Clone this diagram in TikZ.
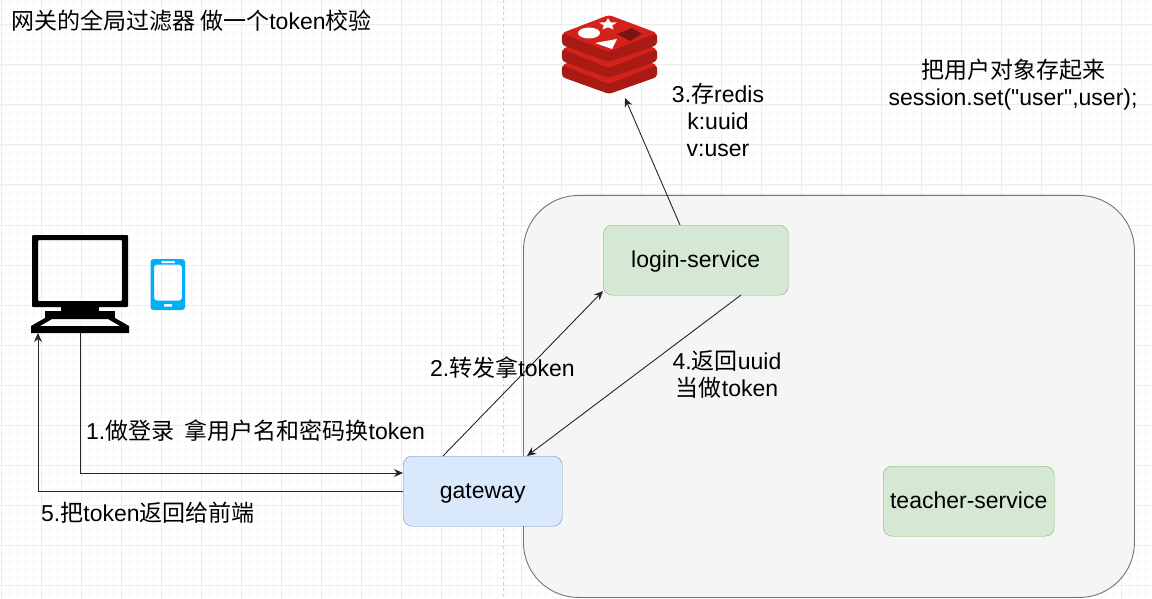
\documentclass[tikz,border=0pt]{standalone}
\usepackage{fontspec}
\setmainfont{Liberation Sans}
\newfontfamily\cjk{Noto Sans CJK SC}
\newfontfamily\rawfont{Liberation Sans}
\usetikzlibrary{shapes.geometric, arrows.meta, positioning}
\newcommand{\zh}[1]{{\cjk #1}}
\definecolor{gridmajor}{HTML}{EDEDED}
\definecolor{gridminor}{HTML}{F8F8F8}
\definecolor{redistop}{HTML}{D3211C}
\definecolor{redisside}{HTML}{A81A14}
\definecolor{redisdark}{HTML}{7A1410}
\definecolor{boxgreen}{HTML}{D5E8D4}
\definecolor{boxgreenline}{HTML}{82B366}
\definecolor{boxblue}{HTML}{DAE8FC}
\definecolor{boxblueline}{HTML}{6C8EBF}
\definecolor{phoneblue}{HTML}{00AEF5}
\tikzset{
  greenbox/.style={rectangle, rounded corners=9pt, minimum height=70pt, text height=15pt, text depth=0pt, font=\fontsize{23}{27}\selectfont, fill=boxgreen, draw=boxgreenline},
  bluebox/.style={rectangle, rounded corners=9pt, minimum height=70pt, text height=15pt, text depth=0pt, font=\fontsize{23}{27}\selectfont, fill=boxblue, draw=boxblueline},
  textlabel/.style={align=center, inner sep=0pt, font=\fontsize{23}{27}\selectfont},
  arrow/.style={draw=black!85, line width=0.9pt, -{Stealth[length=9pt,width=8pt]}}
}
\begin{document}
\begin{tikzpicture}[x=1pt, y=-1pt]
    \useasboundingbox (0,0) rectangle (1152,599);
    % grid of the drawing sheet
    \foreach \gx in {9.7,17.7,...,1152} \draw[gridminor, line width=0.8pt] (\gx,0) -- (\gx,599);
    \foreach \gy in {1,9,...,599} \draw[gridminor, line width=0.8pt] (0,\gy) -- (1152,\gy);
    \foreach \gx in {1.7,41.7,...,1152} \draw[gridmajor, line width=1pt] (\gx,0) -- (\gx,599);
    \foreach \gy in {25,65,...,599} \draw[gridmajor, line width=1pt] (0,\gy) -- (1152,\gy);
    \draw[black!18, dash pattern=on 3pt off 3pt, line width=0.7pt] (503,0) -- (503,599);

    % service group
    \node (group) [rectangle, rounded corners=55pt, draw=black!55, fill=black!4, line width=0.9pt, minimum width=611pt, minimum height=402pt, anchor=north west] at (523,195) {};

    \node (login) [greenbox, minimum width=185pt, anchor=north west] at (603,225) {login-service};
    \node (gateway) [bluebox, minimum width=159pt, anchor=north west] at (403,456) {gateway};
    \node (teacher) [greenbox, minimum width=171pt, anchor=north west] at (883,466) {teacher-service};

    % terminal
    \node (pc) [minimum width=98pt, minimum height=98pt, inner sep=0pt, anchor=north west] at (31,235) {};
    \fill[black, rounded corners=1pt, even odd rule] (32,235) rectangle (128,307) (38,240) rectangle (122,301);
    \fill[black] (61,306) rectangle (99,312);
    \fill[black] (45,311) rectangle (115,318);
    \fill[black, even odd rule] (31,326) -- (45,318) -- (115,318) -- (129,326) -- (129,333) -- (31,333) -- cycle
      (40,326) -- (52,319) -- (108,319) -- (120,326) -- cycle;
    \node (phone) [minimum width=35pt, minimum height=51pt, inner sep=0pt, anchor=north west] at (150,259) {};
    \fill[phoneblue, rounded corners=3pt, even odd rule] (150.5,259) rectangle (185,310) (154,264.5) rectangle (182,300.5);
    \fill[white] (161.5,261) rectangle (174.5,263) (164,304) rectangle (172,306.5);

    % redis stack
    \node (redis) [minimum width=96pt, minimum height=81pt, inner sep=0pt, anchor=north west] at (562,14) {};
    \foreach \dy in {32,16,0} {
      \fill[redisside, rounded corners=3pt] (562,33+\dy) -- (562,45+\dy) -- (609,62+\dy) -- (657,45+\dy) -- (657,33+\dy) -- cycle;
      \fill[redistop, rounded corners=3pt] (562,33+\dy) -- (609,15+\dy) -- (657,33+\dy) -- (609,52+\dy) -- cycle;
    }
    \fill[white] (589,33) ellipse (11pt and 5.5pt);
    \node (redisstar) [star, star points=5, star point ratio=2.2, fill=white, inner sep=0pt, minimum size=19pt, yscale=0.65] at (608,24.5) {};
    \fill[white] (595,43) -- (617,39) -- (612,49) -- cycle;
    \fill[redisdark] (617,34) -- (632,28) -- (642,34) -- (630,41) -- cycle;

    % connectors
    \coordinate (pcdown) at (80,333);
    \coordinate (pcup) at (38,333);
    \coordinate (gwin) at (403,473);
    \coordinate (gwup) at (443,456);
    \coordinate (gwtip) at (527,456);
    \coordinate (lgin) at (603,291);
    \coordinate (lgout) at (741,295);
    \coordinate (lgup) at (680,225);
    \coordinate (rdtip) at (625,98);
    \draw[arrow] (pcdown) |- (gwin);
    \draw[arrow] (gateway.west) -| (pcup);
    \draw[arrow] (gwup) -- (lgin);
    \draw[arrow] (lgout) -- (gwtip);
    \draw[arrow] (lgup) -- (rdtip);

    % texts
    \node (title) [textlabel, anchor=west] at (11,21) {\zh{网关的全局过滤器 做一个}token\zh{校验}};
    \node (step1) [textlabel, anchor=west] at (86,431) {1.\zh{做登录\ \ 拿用户名和密码换}token};
    \node (step2) [textlabel, anchor=west] at (430,368) {2.\zh{转发拿}token};
    \node (step3) [textlabel] at (718,120) {3.\zh{存}redis\\k:uuid\\v:user};
    \node (step4) [textlabel] at (727,374) {4.\zh{返回}uuid\\\zh{当做}token};
    \node (step5) [textlabel, anchor=west] at (41,513) {5.\zh{把}token\zh{返回给前端}};
    \node (note) [textlabel] at (1013,85) {\zh{把用户对象存起来}\\{\rawfont session.set("user",user);}};
  \end{tikzpicture}
\end{document}
